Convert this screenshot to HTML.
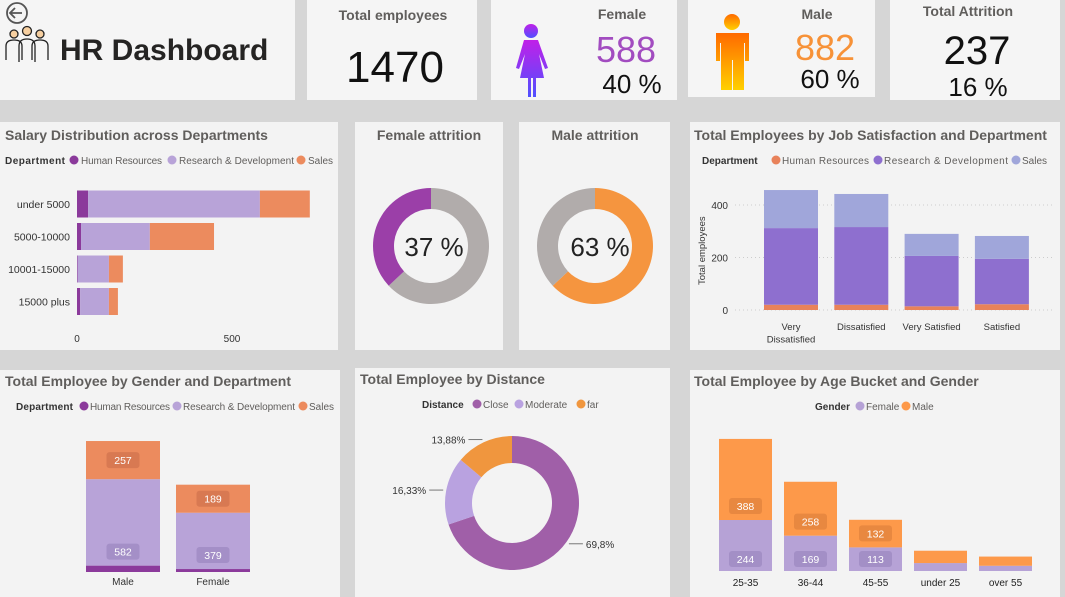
<!DOCTYPE html>
<html><head><meta charset="utf-8">
<style>
html,body{margin:0;padding:0;width:1065px;height:597px;overflow:hidden;background:#d4d4d4;font-family:"Liberation Sans",sans-serif}
svg{display:block}
.t{font-family:"Liberation Sans",sans-serif}
.ttl{font-size:14px;font-weight:bold;fill:#605e5c}
.lg{font-size:10px;fill:#605e5c}
.lgb{font-size:10px;font-weight:bold;fill:#333}
.ax{font-size:10px;fill:#333}
</style></head><body>
<svg id="s" width="1065" height="597" xmlns="http://www.w3.org/2000/svg">
<defs>
<linearGradient id="gf" x1="0" y1="0" x2="0" y2="1"><stop offset="0" stop-color="#c020e8"/><stop offset="1" stop-color="#5050ff"/></linearGradient>
<linearGradient id="gm" x1="0" y1="0" x2="0" y2="1"><stop offset="0" stop-color="#ff6a00"/><stop offset="1" stop-color="#ffd000"/></linearGradient>
</defs>
<rect width="1065" height="597" fill="#d6d6d6"/>
<rect x="0" y="0" width="295" height="100" fill="#f5f5f5"/>
<rect x="307" y="0" width="170" height="100" fill="#f5f5f5"/>
<rect x="491" y="0" width="186" height="100" fill="#f5f5f5"/>
<rect x="688" y="0" width="187" height="97" fill="#f5f5f5"/>
<rect x="890" y="0" width="170" height="100" fill="#f5f5f5"/>
<rect x="0" y="122" width="338" height="228" fill="#f3f3f3"/>
<rect x="355" y="122" width="148" height="228" fill="#f3f3f3"/>
<rect x="519" y="122" width="151" height="228" fill="#f3f3f3"/>
<rect x="690" y="122" width="370" height="228" fill="#f3f3f3"/>
<rect x="0" y="370" width="340" height="227" fill="#f3f3f3"/>
<rect x="355" y="368" width="315" height="229" fill="#f3f3f3"/>
<rect x="690" y="370" width="370" height="227" fill="#f3f3f3"/>

<g><circle cx="17" cy="13" r="10" fill="none" stroke="#555" stroke-width="1.8"/><path d="M22 13H11M15 8l-5 5 5 5" fill="none" stroke="#555" stroke-width="1.8"/></g>
<g fill="#f6cfa0" stroke="#222" stroke-width="1.3">
<circle cx="14" cy="34" r="4"/><circle cx="27" cy="31" r="4.5"/><circle cx="40" cy="34" r="4"/>
<path d="M6 60v-14q0-6 8-6t8 6v14M19 62v-16q0-7 8-7t8 7v16M32 60v-14q0-6 8-6t8 6v14" fill="none"/>
</g>
<text x="60" y="60" class="t" font-size="30" font-weight="bold" fill="#252423">HR Dashboard</text>
<text x="393" y="20" class="t ttl" font-size="15" text-anchor="middle">Total employees</text>
<text x="395" y="82" class="t" font-size="44" fill="#111" text-anchor="middle">1470</text>
<g fill="url(#gf)"><circle cx="531" cy="31" r="7"/><path d="M524 40h14l10 28-3 1-6-15 5 24h-8v19h-3v-19h-2v19h-3v-19h-8l5-24-6 15-3-1z"/></g>
<text x="622" y="19" class="t ttl" font-size="15" text-anchor="middle">Female</text>
<text x="626" y="62" class="t" font-size="36" fill="#a24cc0" text-anchor="middle">588</text>
<text x="632" y="93" class="t" font-size="26" fill="#111" text-anchor="middle">40 %</text>
<g fill="url(#gm)"><circle cx="732" cy="22" r="8"/><path d="M716 33h33v28h-4v-18h-1v47h-11v-30h-1v30h-11v-47h-1v18h-4z"/></g>
<text x="817" y="19" class="t ttl" font-size="15" text-anchor="middle">Male</text>
<text x="825" y="60" class="t" font-size="36" fill="#f79238" text-anchor="middle">882</text>
<text x="830" y="88" class="t" font-size="26" fill="#111" text-anchor="middle">60 %</text>
<text x="968" y="16" class="t ttl" font-size="15" text-anchor="middle">Total Attrition</text>
<text x="977" y="64" class="t" font-size="40" fill="#111" text-anchor="middle">237</text>
<text x="978" y="96" class="t" font-size="26" fill="#111" text-anchor="middle">16 %</text>

<text x="5" y="140" class="t ttl">Salary Distribution across Departments</text>
<g><text x="5" y="164" class="t lgb" textLength="60">Department</text>
<circle cx="74" cy="160" r="4.5" fill="#8b3a9b"/><text x="81" y="164" class="t lg" textLength="81">Human Resources</text>
<circle cx="172" cy="160" r="4.5" fill="#b8a3d8"/><text x="179" y="164" class="t lg" textLength="115">Research &amp; Development</text>
<circle cx="301" cy="160" r="4.5" fill="#ec8b5e"/><text x="308" y="164" class="t lg">Sales</text></g>
<text x="429" y="140" class="t ttl" text-anchor="middle">Female attrition</text>
<text x="595" y="140" class="t ttl" text-anchor="middle">Male attrition</text>
<text x="694" y="140" class="t ttl">Total Employees by Job Satisfaction and Department</text>
<g><text x="702" y="164" class="t lgb">Department</text>
<circle cx="776" cy="160" r="4.5" fill="#e8825a"/><text x="782" y="164" class="t lg" textLength="87">Human Resources</text>
<circle cx="878" cy="160" r="4.5" fill="#8e6fcf"/><text x="884" y="164" class="t lg" textLength="124">Research &amp; Development</text>
<circle cx="1016" cy="160" r="4.5" fill="#a0a6da"/><text x="1022" y="164" class="t lg">Sales</text></g>
<text x="705" y="285" class="t" font-size="9.5" fill="#333" transform="rotate(-90 705 285)">Total employees</text>
<text x="5" y="386" class="t ttl">Total Employee by Gender and Department</text>
<g><text x="16" y="410" class="t lgb" font-size="9.5" textLength="57">Department</text>
<circle cx="84" cy="406" r="4.5" fill="#8b3a9b"/><text x="90" y="410" class="t lg" font-size="9.5" textLength="80">Human Resources</text>
<circle cx="177" cy="406" r="4.5" fill="#b8a3d8"/><text x="183" y="410" class="t lg" font-size="9.5" textLength="112">Research &amp; Development</text>
<circle cx="303" cy="406" r="4.5" fill="#ec8b5e"/><text x="309" y="410" class="t lg" font-size="9.5">Sales</text></g>
<text x="360" y="384" class="t ttl">Total Employee by Distance</text>
<g><text x="422" y="408" class="t lgb">Distance</text>
<circle cx="477" cy="404" r="4.5" fill="#a05fa8"/><text x="483" y="408" class="t lg">Close</text>
<circle cx="519" cy="404" r="4.5" fill="#b9a2e0"/><text x="525" y="408" class="t lg">Moderate</text>
<circle cx="581" cy="404" r="4.5" fill="#f0963e"/><text x="587" y="408" class="t lg">far</text></g>
<text x="694" y="386" class="t ttl">Total Employee by Age Bucket and Gender</text>
<g><text x="815" y="410" class="t lgb" font-size="9.5">Gender</text>
<circle cx="860" cy="406" r="4.5" fill="#b6a2d6"/><text x="866" y="410" class="t lg" font-size="9.5">Female</text>
<circle cx="906" cy="406" r="4.5" fill="#fd994a"/><text x="912" y="410" class="t lg" font-size="9.5">Male</text></g>
<g id="marks"></g>
</svg>
<script>
const salCats=["under 5000","5000-10000","10001-15000","15000 plus"];
const salHR=[36,13,2,10];
const salRD=[554,222,101,93];
const salSales=[161,207,45,29];
const salTicks=[0,500];
const jobCats=["Very|Dissatisfied","Dissatisfied","Very Satisfied","Satisfied"];
const jobHR=[20,20,14,22];
const jobRD=[292,296,192,173];
const jobSales=[145,126,84,87];
const jobTicks=[0,200,400];
const genCats=["Male","Female"];
const genHR=[43,20];
const genRD=[582,379];
const genSales=[257,189];
const ageCats=["25-35","36-44","45-55","under 25","over 55"];
const ageFemale=[244,169,113,38,25];
const ageMale=[388,258,132,59,44];
const distCats=["Close","Moderate","far"];
const distVals=[69.8,16.33,13.88];
const distLabels=["69,8%","16,33%","13,88%"];
const femAttr=[37,63];
const maleAttr=[63,37];

const NS="http://www.w3.org/2000/svg";
const G=document.getElementById("marks");
function mk(tag,at,txt){const e=document.createElementNS(NS,tag);for(const k in at)e.setAttribute(k,at[k]);if(txt!=null)e.textContent=txt;G.appendChild(e);return e;}

const sx=v=>77+v*0.31, sy=i=>204+i*32.5;
salTicks.forEach(t=>{const e=mk("text",{x:sx(t),y:342,"font-size":10,fill:"#333","text-anchor":"middle"},t);

});
salCats.forEach((c,i)=>{
 const y=sy(i)-13.5;let acc=0;
 [[salHR,"#8b3a9b"],[salRD,"#b8a3d8"],[salSales,"#ec8b5e"]].forEach(([arr,col])=>{
  const r=mk("rect",{x:sx(acc),y:y,width:arr[i]*0.31,height:27,fill:col});
  
  
  acc+=arr[i];});
 const l=mk("text",{x:70,y:sy(i)+4,"font-size":10.5,fill:"#333","text-anchor":"end"},c);
 
 
});

function arc(cx,cy,R,r,a0,a1){const p=(a,rr)=>[cx+rr*Math.sin(a),cy-rr*Math.cos(a)];
 const L=a1-a0>Math.PI?1:0;const[a,b]=p(a0,R),[c,d]=p(a1,R),[e,f]=p(a1,r),[g,h]=p(a0,r);
 return `M${a},${b}A${R},${R} 0 ${L} 1 ${c},${d}L${e},${f}A${r},${r} 0 ${L} 0 ${g},${h}Z`;}
function donut(cx,cy,R,r,vals,cols,name){const tot=vals.reduce((a,b)=>a+b,0);let a=0;
 vals.forEach((v,i)=>{const a1=a+v/tot*2*Math.PI;const p=mk("path",{d:arc(cx,cy,R,r,a,a1-0.0001),fill:cols[i]});
 
 
 a=a1;});}
donut(431,246,58,37,[femAttr[1],femAttr[0]],["#b1acab","#9b3fa8"],"female-attrition-slice");
let t1=mk("text",{x:434,y:256,"font-size":26,fill:"#222","text-anchor":"middle"},femAttr[0]+" %");


donut(595,246,58,37,maleAttr,["#f5953f","#b1acab"],"male-attrition-slice");
let t2=mk("text",{x:600,y:256,"font-size":26,fill:"#222","text-anchor":"middle"},maleAttr[0]+" %");



const jy=v=>310-v*0.2625;
jobTicks.forEach(t=>{const g=mk("line",{x1:735,x2:1055,y1:jy(t),y2:jy(t),stroke:"#ccc","stroke-dasharray":"1 3"});


const e=mk("text",{x:728,y:jy(t)+4,"font-size":10,fill:"#333","text-anchor":"end"},t);

});
jobCats.forEach((c,i)=>{const x=764+i*70.3;let acc=0;
 [[jobHR,"#e8825a"],[jobRD,"#8e6fcf"],[jobSales,"#a0a6da"]].forEach(([arr,col])=>{
  const r=mk("rect",{x:x,y:jy(acc+arr[i]),width:54,height:arr[i]*0.2625,fill:col});
  
  
  acc+=arr[i];});
 c.split("|").forEach((ln,k)=>{const l=mk("text",{x:x+27,y:330+k*12.5,"font-size":9.5,fill:"#333","text-anchor":"middle"},ln);
 
 });
});

function badge(cx,cy,v,fill,name){const w=String(v).length*7+12;
 const b=mk("rect",{x:cx-w/2,y:cy-8,width:w,height:16,rx:3,fill:fill});
 
 
 const t=mk("text",{x:cx,y:cy+4,"font-size":10.5,fill:"#fff","text-anchor":"middle"},v);
 
 }

const gy=v=>572-v*0.1485;
genCats.forEach((c,i)=>{const x=86+i*90;let acc=0;
 [[genHR,"#8b3a9b"],[genRD,"#b8a3d8"],[genSales,"#ec8b5e"]].forEach(([arr,col],k)=>{
  const r=mk("rect",{x:x,y:gy(acc+arr[i]),width:74,height:arr[i]*0.1485,fill:col});
  
  
  acc+=arr[i];});
 badge(x+37,gy(genHR[i]+genRD[i]+genSales[i]/2),genSales[i],"rgba(180,90,60,0.35)","gender-sales-label");
 badge(x+37,gy(genHR[i])-14,genRD[i],"rgba(120,100,160,0.3)","gender-rd-label");
 const l=mk("text",{x:x+37,y:585,"font-size":10,fill:"#333","text-anchor":"middle"},c);
 
 
});

(function(){const cx=512,cy=503,R=67,r=40;const tot=distVals.reduce((a,b)=>a+b,0);let a=0;
 const cols=["#a05fa8","#b9a2e0","#f0963e"];
 distVals.forEach((v,i)=>{const a1=a+v/tot*2*Math.PI;
  const p=mk("path",{d:arc(cx,cy,R,r,a,a1),fill:cols[i]});
  
  
  const m=(a+a1)/2;const ex=cx+(R+3)*Math.sin(m),ey=cy-(R+3)*Math.cos(m);
  const right=Math.sin(m)>0;const lx=ex+(right?8:-8);
  const ln=mk("polyline",{points:`${ex},${ey} ${lx},${ey} ${lx+(right?6:-6)},${ey}`,fill:"none",stroke:"#777"});
  
  
  const t=mk("text",{x:lx+(right?9:-9),y:ey+4,"font-size":10,fill:"#333","text-anchor":right?"start":"end"},distLabels[i]);
  
  
  a=a1;});})();

const ay=v=>571-v*0.209;
ageCats.forEach((c,i)=>{const x=719+i*65;
 const f=mk("rect",{x:x,y:ay(ageFemale[i]),width:53,height:ageFemale[i]*0.209,fill:"#b6a2d6"});
 
 
 const m=mk("rect",{x:x,y:ay(ageFemale[i]+ageMale[i]),width:53,height:ageMale[i]*0.209,fill:"#fd994a"});
 
 
 if(ageFemale[i]>100){
  badge(x+26.5,ay(ageFemale[i])-14,ageMale[i],"rgba(200,110,50,0.4)","age-male-label");
  badge(x+26.5,ay(0)-12,ageFemale[i],"rgba(130,110,170,0.35)","age-female-label");}
 const l=mk("text",{x:x+26.5,y:586,"font-size":10,fill:"#222","text-anchor":"middle"},c);
 
 
});
</script>
</body></html>
